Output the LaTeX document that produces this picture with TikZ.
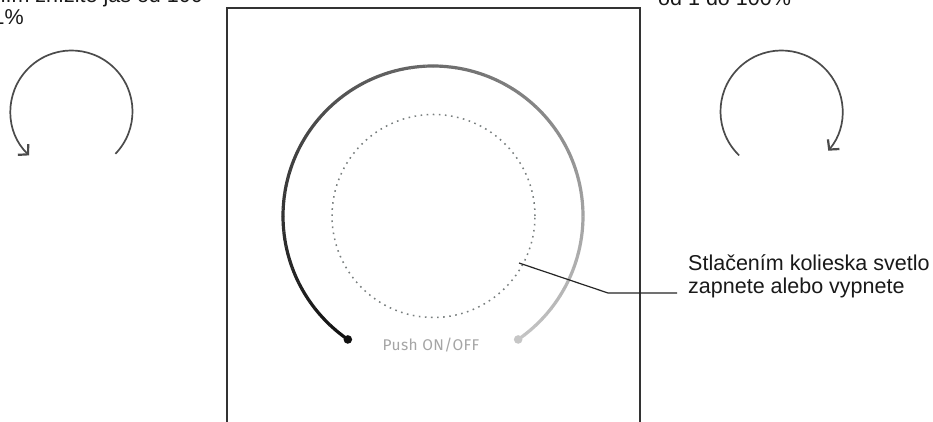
\documentclass[tikz,border=0pt]{standalone}
\usepackage{fontspec}
\setmainfont{Liberation Sans}
\newfontfamily\pushfont[LetterSpace=2.5]{Fira Sans}
\usetikzlibrary{arrows.meta}
\definecolor{arcstart}{RGB}{17,17,17}
\definecolor{arcend}{RGB}{198,198,198}
\definecolor{framec}{RGB}{51,51,51}
\definecolor{rotc}{RGB}{75,75,75}
\definecolor{dotc}{RGB}{120,126,126}
\definecolor{pushc}{RGB}{165,165,165}
\tikzset{
  framebox/.style={draw=framec, line width=1.9pt},
  rotarrow/.style={draw=rotc, line width=1.7pt, -{Straight Barb[length=7pt,width=15pt,line width=2.2pt]}},
  dotring/.style={draw=dotc, line width=1.5pt, dash pattern=on 1.6pt off 4.5pt},
  leader/.style={draw=black!85, line width=1.2pt},
  lbl/.style={font=\fontsize{21.5}{23}\selectfont, inner sep=0pt, text=black!90},
  pushlbl/.style={font=\fontsize{15.5}{17}\pushfont, text=pushc, inner sep=0pt},
  enddot/.style={circle, inner sep=0pt, minimum size=8.6pt}
}
\begin{document}
\begin{tikzpicture}[x=1pt,y=1pt]
\useasboundingbox (0,0) rectangle (933,422);
\clip (0,0) rectangle (933,422);
\fill[white] (0,0) rectangle (933,422);
% frame
\draw[framebox] (227,-10) -- (227,414) -- (640,414) -- (640,-10);
% gradient arc
\coordinate (c) at (433,206);
\foreach \i in {0,...,99}{
  \pgfmathsetmacro\aA{235.4-\i*2.908}
  \pgfmathsetmacro\aB{\aA-3.0}
  \draw[line width=3.2pt, color=arcend!\i!arcstart] ([shift={(\aA:150)}]c) arc[start angle=\aA, end angle=\aB, radius=150];
}
\node[enddot, fill=arcstart] (dl) at ([shift={(235.4:150)}]c) {};
\node[enddot, fill=arcend] (dr) at ([shift={(-55.4:150)}]c) {};
% dotted ring
\draw[dotring] (433.5,206) circle[radius=101.5];
% push label
\node[pushlbl, anchor=base] (push) at (431,71) {Push ON/OFF};
% leader and label
\coordinate (lp) at (519,159);
\coordinate (bend) at (608,129);
\coordinate (lend) at (677,129);
\node[lbl, anchor=base west, align=left] (note) at (688,128.5) {Stlačením kolieska svetlo\\zapnete alebo vypnete};
\draw[leader] (lp) -- (bend) -- (lend);
% rotation arrows
\coordinate (lc) at (71.5,310.5);
\coordinate (rc) at (781.5,310.5);
\draw[rotarrow] ([shift={(-44:61)}]lc) arc[start angle=-44, end angle=226, radius=61];
\draw[rotarrow] ([shift={(226:61)}]rc) arc[start angle=226, end angle=-40, radius=61];
% top texts (partly cut off, as in the reference)
\node[lbl, anchor=base east] (tl1) at (203,419) {Otočením znížite jas od 100};
\node[lbl, anchor=base east] (tl2) at (24,397) {do 1\%};
\node[lbl, anchor=base west] (tr) at (658,416) {od 1 do 100\%};
\end{tikzpicture}
\end{document}
